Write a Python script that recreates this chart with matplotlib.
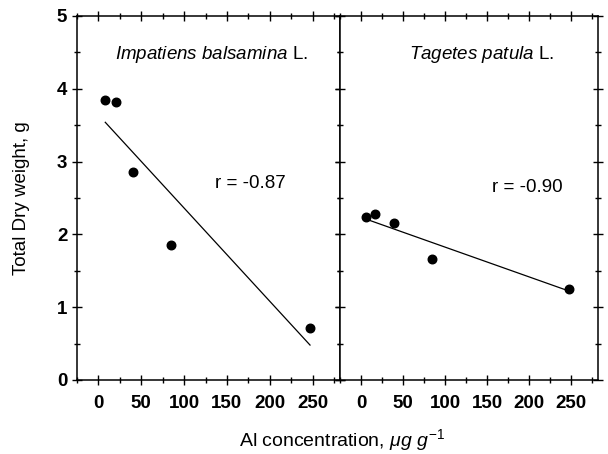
import matplotlib
matplotlib.use("Agg")
import matplotlib.pyplot as plt
from matplotlib.ticker import MultipleLocator

plt.rcParams["font.family"] = ["Liberation Sans", "DejaVu Sans"]
plt.rcParams["mathtext.fontset"] = "custom"
plt.rcParams["mathtext.rm"] = "Liberation Sans"
plt.rcParams["mathtext.it"] = "Liberation Sans:italic"

# --- data ---
imp_al = [8, 20, 40, 85, 247]
imp_dw = [3.84, 3.82, 2.86, 1.85, 0.72]
imp_fit_x = [8, 247]
imp_fit_y = [3.54, 0.48]

tag_al = [6, 17, 39, 85, 248]
tag_dw = [2.24, 2.28, 2.16, 1.66, 1.25]
tag_fit_x = [6, 248]
tag_fit_y = [2.21, 1.22]

xticks = [0, 50, 100, 150, 200, 250]
yticks = [0, 1, 2, 3, 4, 5]

W, H = 608, 454
fig = plt.figure(figsize=(W / 100, H / 100), dpi=100)
ax1 = fig.add_axes([77 / W, (H - 380) / H, (340 - 77) / W, (380 - 16) / H])
ax2 = fig.add_axes([340 / W, (H - 380) / H, (598 - 340) / W, (380 - 16) / H])

panels = [
    (ax1, imp_al, imp_dw, imp_fit_x, imp_fit_y,
     r"$\mathit{Impatiens\ balsamina}$ L.", 0.51, "r = -0.87", (136, 2.7)),
    (ax2, tag_al, tag_dw, tag_fit_x, tag_fit_y,
     r"$\mathit{Tagetes\ patula}$ L.", 0.55, "r = -0.90", (156, 2.65)),
]

for ax, xs, ys, fx, fy, name, nx, rtxt, rpos in panels:
    ax.plot(fx, fy, color="black", lw=0.9)
    ax.scatter(xs, ys, s=38, color="black", zorder=3)
    ax.set_xlim(-25, 282)
    ax.set_ylim(0, 5)
    ax.set_xticks(xticks)
    ax.set_yticks(yticks)
    ax.xaxis.set_minor_locator(MultipleLocator(25))
    ax.yaxis.set_minor_locator(MultipleLocator(0.5))
    ax.tick_params(which="both", direction="inout", top=True, right=True)
    ax.tick_params(which="major", length=7, width=1)
    ax.tick_params(which="minor", length=4, width=1)
    ax.tick_params(axis="x", labelsize=13.5, pad=7)
    ax.tick_params(axis="y", labelsize=13.5)
    for lab in ax.get_xticklabels() + ax.get_yticklabels():
        lab.set_fontweight("bold")
    for sp in ax.spines.values():
        sp.set_linewidth(1.1)
    ax.text(nx, 0.893, name, transform=ax.transAxes, ha="center",
            va="center", fontsize=13.5)
    ax.text(rpos[0], rpos[1], rtxt, fontsize=13.5, va="center")

ax2.tick_params(axis="y", labelleft=False)

fig.text(22 / W, 1 - 198 / H, "Total Dry weight, g", rotation=90,
         ha="center", va="center", fontsize=13.5)
fig.text(342 / W, 1 - 440 / H, r"Al concentration, $\mathit{\mu g\ g}^{-1}$",
         ha="center", va="center", fontsize=14)

fig.savefig("out.png", dpi=100)
